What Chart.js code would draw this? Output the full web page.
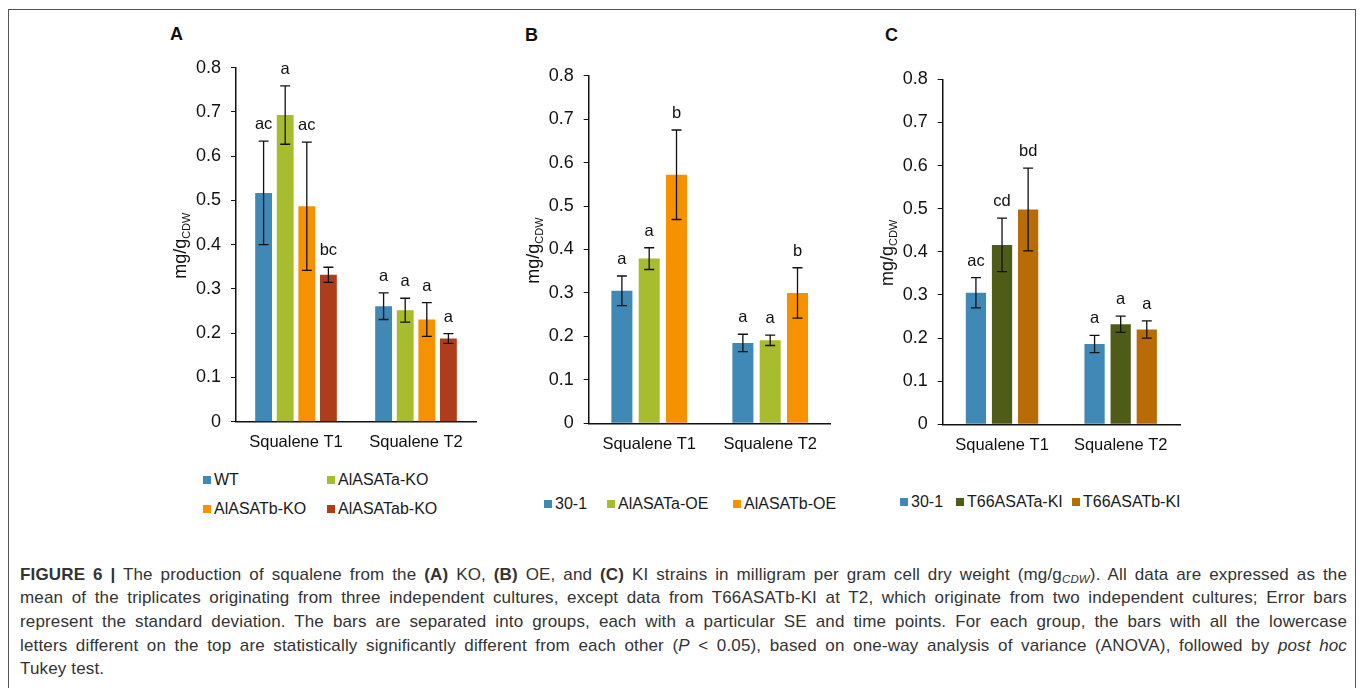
<!DOCTYPE html>
<html>
<head>
<meta charset="utf-8">
<script src="https://cdn.jsdelivr.net/npm/chart.js@4.4.1/dist/chart.umd.min.js"></script>
<style>
    body{margin:0;background:#fff;width:1360px;height:688px;overflow:hidden;position:relative;font-family:"Liberation Sans",Arial,sans-serif;}
    .frame{position:absolute;left:8px;top:9px;width:1346px;height:700px;border:1px solid #555;}
    canvas{position:absolute;top:20px;}
    .plabel{position:absolute;font-weight:bold;font-size:18px;color:#111;}
    .leg{position:absolute;font-size:16px;color:#1a1a1a;white-space:nowrap;line-height:18px;}
    .leg i{display:inline-block;width:8px;height:8px;margin-right:3px;vertical-align:1px;}
    .cap{position:absolute;left:20px;font-size:17px;letter-spacing:0.15px;color:#333;line-height:20px;white-space:nowrap;}
    .cap sub{font-size:11.5px;line-height:0;vertical-align:-3px;}
</style>
</head>
<body>
<div class="frame"></div>
<div class="plabel" style="left:170px;top:24px">A</div>
<div class="plabel" style="left:525px;top:25px">B</div>
<div class="plabel" style="left:885px;top:25px">C</div>
<canvas id="chartA" width="340" height="440" style="left:150px"></canvas>
<canvas id="chartB" width="345" height="440" style="left:500px"></canvas>
<canvas id="chartC" width="340" height="440" style="left:855px"></canvas>
<div id="legends"></div>

<div class="cap j" style="top:565px"><b>FIGURE 6 |</b> The production of squalene from the <b>(A)</b> KO, <b>(B)</b> OE, and <b>(C)</b> KI strains in milligram per gram cell dry weight (mg/g<sub><i>CDW</i></sub>). All data are expressed as the</div>
<div class="cap j" style="top:588px">mean of the triplicates originating from three independent cultures, except data from T66ASATb-KI at T2, which originate from two independent cultures; Error bars</div>
<div class="cap j" style="top:612px">represent the standard deviation. The bars are separated into groups, each with a particular SE and time points. For each group, the bars with all the lowercase</div>
<div class="cap j" style="top:636px">letters different on the top are statistically significantly different from each other (<i>P</i> &lt; 0.05), based on one-way analysis of variance (ANOVA), followed by <i>post hoc</i></div>
<div class="cap" style="top:659px">Tukey test.</div>

<script>
const categories = ['Squalene T1', 'Squalene T2'];
const yTickLabels = ['0', '0.1', '0.2', '0.3', '0.4', '0.5', '0.6', '0.7', '0.8'];

// panel A - KO strains
const koNames = ['WT', 'AlASATa-KO', 'AlASATb-KO', 'AlASATab-KO'];
const koMean = [[0.517, 0.261], [0.693, 0.252], [0.487, 0.231], [0.332, 0.188]];
const koSD = [[0.117, 0.030], [0.066, 0.027], [0.145, 0.038], [0.017, 0.011]];
const koLetters = [['ac', 'a'], ['a', 'a'], ['ac', 'a'], ['bc', 'a']];

// panel B - OE strains
const oeNames = ['30-1', 'AlASATa-OE', 'AlASATb-OE'];
const oeMean = [[0.305, 0.185], [0.379, 0.191], [0.572, 0.300]];
const oeSD = [[0.034, 0.020], [0.025, 0.012], [0.103, 0.058]];
const oeLetters = [['a', 'a'], ['a', 'a'], ['b', 'b']];

// panel C - KI strains
const kiNames = ['30-1', 'T66ASATa-KI', 'T66ASATb-KI'];
const kiMean = [[0.305, 0.186], [0.416, 0.232], [0.498, 0.220]];
const kiSD = [[0.035, 0.020], [0.062, 0.019], [0.096, 0.020]];
const kiLetters = [['ac', 'a'], ['cd', 'a'], ['bd', 'a']];

const colorsA = ['#4088b5', '#a8bd2e', '#f69200', '#ae3d1b'];
const colorsB = ['#4088b5', '#a8bd2e', '#f69200'];
const colorsC = ['#4088b5', '#4f5c18', '#b96c06'];

const errorBars = {
    id: 'errorBars',
    afterDatasetsDraw(chart){
        const ctx = chart.ctx;
        const y = chart.scales.y;
        ctx.save();
        chart.data.datasets.forEach(function(ds, i){
            chart.getDatasetMeta(i).data.forEach(function(bar, j){
                const top = y.getPixelForValue(ds.data[j] + ds.sd[j]);
                const bot = y.getPixelForValue(ds.data[j] - ds.sd[j]);
                ctx.strokeStyle = '#111';
                ctx.lineWidth = 1.3;
                ctx.beginPath();
                ctx.moveTo(bar.x, top); ctx.lineTo(bar.x, bot);
                ctx.moveTo(bar.x - 5, top); ctx.lineTo(bar.x + 5, top);
                ctx.moveTo(bar.x - 5, bot); ctx.lineTo(bar.x + 5, bot);
                ctx.stroke();
                ctx.fillStyle = '#111';
                ctx.font = '16.5px "Liberation Sans", Arial';
                ctx.textAlign = 'center';
                ctx.textBaseline = 'alphabetic';
                ctx.fillText(ds.letters[j], bar.x, top - 12);
            });
        });
        ctx.restore();
    }
};

// y title with subscript
const yTitle = {
    id: 'yTitle',
    afterDraw(chart){
        const ctx = chart.ctx;
        const a = chart.chartArea;
        ctx.save();
        ctx.translate(a.left - 50, (a.top + a.bottom) / 2 + 1);
        ctx.rotate(-Math.PI / 2);
        ctx.fillStyle = '#111';
        ctx.textBaseline = 'alphabetic';
        ctx.textAlign = 'left';
        ctx.font = '18px "Liberation Sans", Arial';
        const w1 = ctx.measureText('mg/g').width;
        ctx.font = '11px "Liberation Sans", Arial';
        const w2 = ctx.measureText('CDW').width;
        const x0 = -(w1 + w2) / 2;
        ctx.font = '18px "Liberation Sans", Arial';
        ctx.fillText('mg/g', x0, 0);
        ctx.font = '11px "Liberation Sans", Arial';
        ctx.fillText('CDW', x0 + w1, 4);
        ctx.restore();
    }
};

function makeChart(id, names, means, sds, letters, colors, p){
    const datasets = names.map(function(n, i){
        return {
            label: n,
            data: means[i],
            sd: sds[i],
            letters: letters[i],
            backgroundColor: colors[i],
            categoryPercentage: p.cat,
            barPercentage: p.bar
        };
    });
    return new Chart(document.getElementById(id), {
        type: 'bar',
        data: { labels: categories, datasets: datasets },
        plugins: [errorBars, yTitle],
        options: {
            responsive: false,
            animation: false,
            layout: { padding: { top: p.top, right: p.right, left: 0, bottom: 0 } },
            plugins: { legend: { display: false }, tooltip: { enabled: false } },
            scales: {
                x: {
                    grid: { display: false, drawTicks: false },
                    border: { display: true, color: '#111', width: 1.5 },
                    ticks: { color: '#111', padding: 11, maxRotation: 0, font: { family: '"Liberation Sans", Arial', size: 16.5 } },
                    afterFit: function(s){ s.height = p.xh; }
                },
                y: {
                    min: 0,
                    max: 0.8,
                    ticks: {
                        stepSize: 0.1,
                        color: '#111',
                        padding: 10,
                        font: { family: '"Liberation Sans", Arial', size: 18 },
                        callback: function(v, i){ return yTickLabels[i]; }
                    },
                    grid: { display: true, drawOnChartArea: false, drawTicks: true, tickLength: 5, color: '#111', lineWidth: 1 },
                    border: { display: true, color: '#111', width: 1.5 },
                    afterFit: function(s){ s.width = p.yw; }
                }
            }
        }
    });
}

makeChart('chartA', koNames, koMean, koSD, koLetters, colorsA, { cat: 0.72, bar: 0.78, top: 47.7, right: 14, yw: 86, xh: 38.3 });
makeChart('chartB', oeNames, oeMean, oeSD, oeLetters, colorsB, { cat: 0.677, bar: 0.77, top: 55.7, right: 14.3, yw: 88.7, xh: 36.7 });
makeChart('chartC', kiNames, kiMean, kiSD, kiLetters, colorsC, { cat: 0.66, bar: 0.775, top: 59.3, right: 15, yw: 87.7, xh: 35.7 });

// legends
function addLegend(names, colors, xs, ys){
    const box = document.getElementById('legends');
    names.forEach(function(n, i){
        const d = document.createElement('div');
        d.className = 'leg';
        d.style.left = xs[i] + 'px';
        d.style.top = (ys[i] - 9) + 'px';
        d.innerHTML = '<i style="background:' + colors[i] + '"></i>' + n;
        box.appendChild(d);
    });
}
addLegend(koNames, colorsA, [203, 327, 203, 327], [480, 480, 509, 509]);
addLegend(oeNames, colorsB, [544, 607, 733], [504, 504, 504]);
addLegend(kiNames, colorsC, [900, 956, 1072], [502, 502, 502]);

// stretch caption lines to the full width (justified)
document.querySelectorAll('.cap.j').forEach(function(el){
    const w = el.getBoundingClientRect().width;
    const spaces = el.textContent.split(' ').length - 1;
    el.style.wordSpacing = ((1327 - w) / spaces) + 'px';
});
</script>
</body>
</html>
